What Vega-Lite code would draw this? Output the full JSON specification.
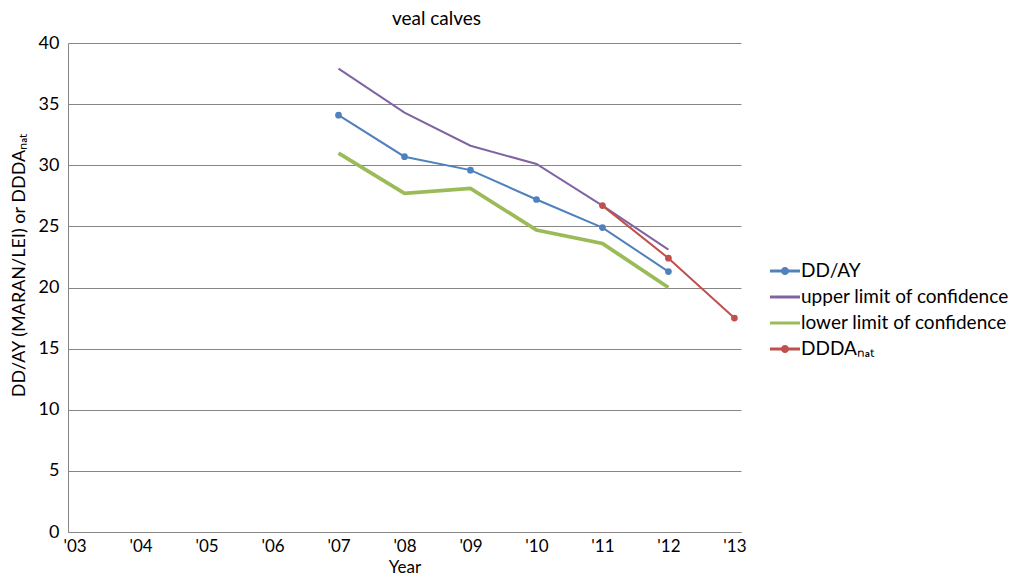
{
  "$schema": "https://vega.github.io/schema/vega-lite/v6.json",
  "width": 673,
  "height": 489,
  "autosize": {"type": "none"},
  "padding": {"left": 68, "top": 43, "right": 277, "bottom": 44},
  "background": "white",
  "config": {
    "font": "Lato",
    "view": {"stroke": null},
    "axis": {"labelFont": "Lato", "titleFont": "Lato", "labelColor": "#000000", "titleColor": "#000000", "titleFontWeight": "normal"}
  },
  "title": {"text": "veal calves", "fontSize": 19, "fontWeight": "normal", "font": "Lato", "color": "#000000", "dx": 32, "offset": 5},
  "data": {
    "values": [
      {"year": "'07", "series": "DD/AY", "value": 34.1},
      {"year": "'08", "series": "DD/AY", "value": 30.7},
      {"year": "'09", "series": "DD/AY", "value": 29.6},
      {"year": "'10", "series": "DD/AY", "value": 27.2},
      {"year": "'11", "series": "DD/AY", "value": 24.9},
      {"year": "'12", "series": "DD/AY", "value": 21.3},
      {"year": "'07", "series": "upper limit of confidence", "value": 37.9},
      {"year": "'08", "series": "upper limit of confidence", "value": 34.3},
      {"year": "'09", "series": "upper limit of confidence", "value": 31.6},
      {"year": "'10", "series": "upper limit of confidence", "value": 30.1},
      {"year": "'11", "series": "upper limit of confidence", "value": 26.7},
      {"year": "'12", "series": "upper limit of confidence", "value": 23.1},
      {"year": "'07", "series": "lower limit of confidence", "value": 31.0},
      {"year": "'08", "series": "lower limit of confidence", "value": 27.7},
      {"year": "'09", "series": "lower limit of confidence", "value": 28.1},
      {"year": "'10", "series": "lower limit of confidence", "value": 24.7},
      {"year": "'11", "series": "lower limit of confidence", "value": 23.6},
      {"year": "'12", "series": "lower limit of confidence", "value": 20.0},
      {"year": "'11", "series": "DDDAₙₐₜ", "value": 26.7},
      {"year": "'12", "series": "DDDAₙₐₜ", "value": 22.4},
      {"year": "'13", "series": "DDDAₙₐₜ", "value": 17.5}
    ]
  },
  "encoding": {
    "x": {
      "field": "year", "type": "ordinal",
      "scale": {"type": "point", "domain": ["'03","'04","'05","'06","'07","'08","'09","'10","'11","'12","'13"], "padding": 0.1},
      "axis": {"title": "Year", "titleFontSize": 17, "labelFontSize": 17, "labelAngle": 0, "ticks": false, "domainColor": "#868686", "labelPadding": 6, "titlePadding": 5, "grid": false}
    },
    "y": {
      "field": "value", "type": "quantitative",
      "scale": {"domain": [0, 40], "nice": false},
      "axis": {"title": "DD/AY (MARAN/LEI) or DDDAₙₐₜ", "titleFontSize": 18, "labelFontSize": 18, "values": [0,5,10,15,20,25,30,35,40], "ticks": false, "domainColor": "#868686", "gridColor": "#868686", "gridOpacity": 1, "labelPadding": 9, "titlePadding": 10, "titleY": 222}
    },
    "color": {
      "field": "series", "type": "nominal",
      "scale": {"domain": ["DD/AY", "upper limit of confidence", "lower limit of confidence", "DDDAₙₐₜ"], "range": ["#4F81BD", "#8064A2", "#9BBB59", "#C0504D"]},
      "legend": {
        "title": null, "orient": "none", "legendX": 702, "legendY": 213,
        "labelFontSize": 19, "labelFont": "Lato", "labelColor": "#000000", "labelOffset": 1, "labelLimit": 400,
        "symbolSize": 900, "rowPadding": 1,
        "encode": {
          "symbols": {
            "update": {
              "shape": {"signal": "(datum.value == 'DD/AY' || datum.value == 'DDDAₙₐₜ') ? 'M-1,-0.1H1V0.1H-1Z M0.27,0A0.27,0.27 0 1,1 -0.27,0A0.27,0.27 0 1,1 0.27,0Z' : 'M-1,-0.1H1V0.1H-1Z'"},
              "fill": {"signal": "scale('color', datum.value)"},
              "fillOpacity": {"value": 1},
              "strokeWidth": {"value": 0}
            }
          }
        }
      }
    }
  },
  "layer": [
    {
      "mark": {"type": "line"},
      "encoding": {
        "strokeWidth": {
          "condition": {"test": "datum.series == 'lower limit of confidence'", "value": 3.8},
          "value": 2
        }
      }
    },
    {
      "transform": [{"filter": "datum.series == 'DD/AY' || datum.series == 'DDDAₙₐₜ'"}],
      "mark": {"type": "point", "filled": true, "shape": "circle", "size": 45, "opacity": 1}
    }
  ]
}
